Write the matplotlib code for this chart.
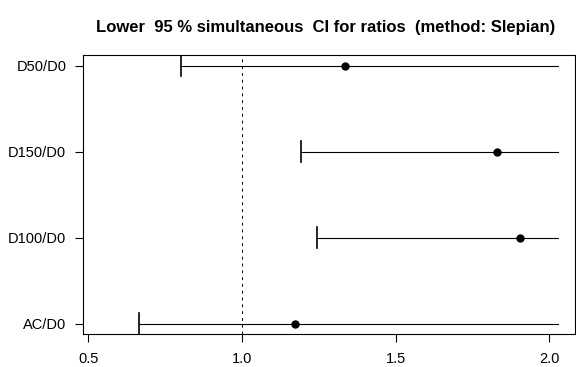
import matplotlib
matplotlib.use('Agg')
import matplotlib.pyplot as plt

# contrasts, bottom to top
labels = ['AC/D0', 'D100/D0', 'D150/D0', 'D50/D0']
estimate = [1.171, 1.905, 1.831, 1.336]
lower = [0.665, 1.244, 1.191, 0.803]
upper_draw = 2.027  # upper bound is Inf, line drawn to plot edge

plt.rcParams['font.family'] = ['Liberation Sans', 'DejaVu Sans']

fig = plt.figure(figsize=(5.76, 3.67), dpi=100)
ax = fig.add_axes([0.1441, 0.0899, 0.8542, 0.7589])

pos = list(range(1, len(labels) + 1))
for y, lo, est in zip(pos, lower, estimate):
    ax.plot([lo, upper_draw], [y, y], color='black', lw=0.8)
    ax.plot([lo, lo], [y - 0.12, y + 0.12], color='black', lw=1.2)
    ax.plot(est, y, 'o', color='black', ms=5)

ax.axvline(1.0, color='black', lw=0.7, linestyle=(0, (3, 4)))

ax.set_xlim(0.4827, 2.0837)
ax.set_ylim(0.88, 4.12)
ax.set_xticks([0.5, 1.0, 1.5, 2.0])
ax.set_xticklabels(['0.5', '1.0', '1.5', '2.0'])
ax.set_yticks(pos)
ax.set_yticklabels(labels)
ax.tick_params(axis='both', direction='out', length=6, width=0.8, labelsize=10.5)
ax.tick_params(axis='x', pad=7)
ax.tick_params(axis='y', pad=6)
for s in ax.spines.values():
    s.set_linewidth(0.8)

fig.text(0.5645, 0.926, 'Lower  95 % simultaneous  CI for ratios  (method: Slepian)',
         ha='center', va='center', fontsize=12, fontweight='bold')

fig.savefig('out.png', dpi=100)
